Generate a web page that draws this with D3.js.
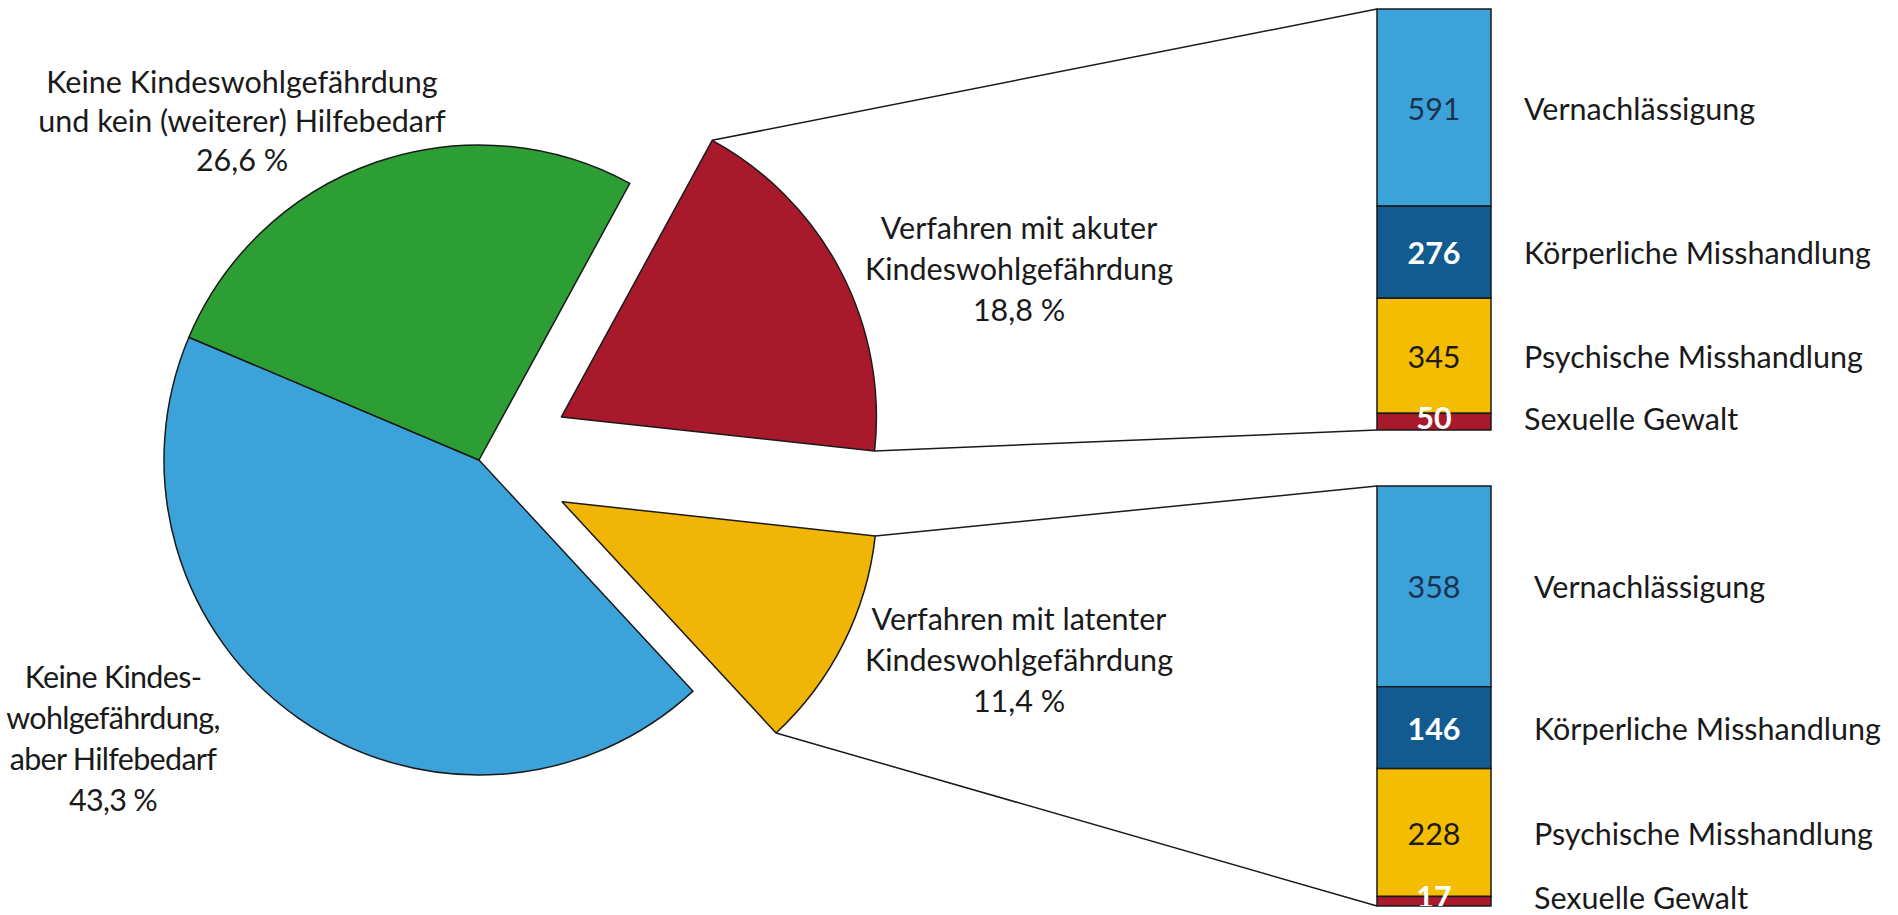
<!DOCTYPE html>
<html>
<head>
<meta charset="utf-8">
<script src="https://cdn.jsdelivr.net/npm/d3@7/dist/d3.min.js"></script>
<style>
    body { margin: 0; background: #fff; }
    text { font-family: Lato, "Open Sans", sans-serif; fill: #1a1a1a; }
</style>
</head>
<body>
<svg id="chart"></svg>
<script>
// Anteile der Verfahren (Kreis), Reihenfolge im Uhrzeigersinn ab dem roten Stück
let pieNames = ['Verfahren mit akuter Kindeswohlgefährdung',
    'Verfahren mit latenter Kindeswohlgefährdung',
    'Keine Kindeswohlgefährdung, aber Hilfebedarf',
    'Keine Kindeswohlgefährdung und kein (weiterer) Hilfebedarf'];
let pieValues = [18.8, 11.4, 43.3, 26.6];
let pieLabels = [
    ['Verfahren mit akuter', 'Kindeswohlgefährdung', '18,8 %'],
    ['Verfahren mit latenter', 'Kindeswohlgefährdung', '11,4 %'],
    ['Keine Kindes-', 'wohlgefährdung,', 'aber Hilfebedarf', '43,3 %'],
    ['Keine Kindeswohlgefährdung', 'und kein (weiterer) Hilfebedarf', '26,6 %']
];
let pieColors = ['#a8192b', '#f0b505', '#3ba2da', '#2c9e33'];

// Gefährdungsarten (Balken)
let harmTypes = ['Vernachlässigung', 'Körperliche Misshandlung', 'Psychische Misshandlung', 'Sexuelle Gewalt'];
let acuteCounts = [591, 276, 345, 50];
let latentCounts = [358, 146, 228, 17];
let harmColors = ['#3ba2da', '#125b90', '#f5bd02', '#a8192b'];
let harmTextColors = ['#1c3350', '#ffffff', '#1a1a1a', '#ffffff'];
let harmTextWeight = ['normal', 'bold', 'normal', 'bold'];

let width = 1898, height = 915;
let fontSize = '30.5px';
let svg = d3.select('#chart')
    .attr('width', width)
    .attr('height', height);

// Kreis
let cx = 479, cy = 460, radius = 315, explode = 93;
let start = 28.6 * Math.PI / 180;
let pie = d3.pie().sort(null).startAngle(start).endAngle(start + 2 * Math.PI);
let arc = d3.arc().innerRadius(0).outerRadius(radius);
let arcs = pie(pieValues);

// explodierte Stücke: rot und gelb
let offset = function (d, i) {
    if (i > 1) return [0, 0];
    let mid = (d.startAngle + d.endAngle) / 2;
    return [explode * Math.sin(mid), -explode * Math.cos(mid)];
};

let gPie = svg.append('g').attr('transform', 'translate(' + cx + ',' + cy + ')');
gPie.selectAll('path')
    .data(arcs)
    .enter()
    .append('path')
    .attr('d', arc)
    .attr('transform', (d, i) => 'translate(' + offset(d, i) + ')')
    .attr('fill', (d, i) => pieColors[i])
    .attr('stroke', '#1a1a1a')
    .attr('stroke-width', 1.5)
    .attr('stroke-linejoin', 'round');

// Balken
let barX = 1377, barW = 114;
let bars = [
    {counts: acuteCounts, top: 9, bottom: 430, labelX: 1524, slice: 0},
    {counts: latentCounts, top: 486, bottom: 906, labelX: 1534, slice: 1}
];

bars.forEach(function (b, bi) {
    let total = d3.sum(b.counts);
    let y = d3.scaleLinear().domain([0, total]).range([b.top, b.bottom]);
    let cum = d3.cumsum(b.counts);
    let segs = b.counts.map((v, i) => ({v: v, i: i, y0: cum[i] - v, y1: cum[i]}));

    // Verbindungslinien vom Kreisstück zum Balken
    let d = arcs[b.slice];
    let off = offset(d, b.slice);
    let p0 = [cx + off[0] + radius * Math.sin(d.startAngle), cy + off[1] - radius * Math.cos(d.startAngle)];
    let p1 = [cx + off[0] + radius * Math.sin(d.endAngle), cy + off[1] - radius * Math.cos(d.endAngle)];
    svg.append('line')
        .attr('x1', p0[0]).attr('y1', p0[1])
        .attr('x2', barX).attr('y2', y(0))
        .attr('stroke', '#1a1a1a').attr('stroke-width', 1.5);
    svg.append('line')
        .attr('x1', p1[0]).attr('y1', p1[1])
        .attr('x2', barX).attr('y2', y(total))
        .attr('stroke', '#1a1a1a').attr('stroke-width', 1.5);

    // Werte werden am unteren Balkenende abgeschnitten (wie im Original)
    svg.append('clipPath')
        .attr('id', 'clip-bar-' + bi)
        .append('rect')
        .attr('x', barX - 20)
        .attr('y', b.top - 40)
        .attr('width', barW + 40)
        .attr('height', b.bottom - b.top + 40);

    let g = svg.append('g');
    g.selectAll('rect')
        .data(segs)
        .enter()
        .append('rect')
        .attr('x', barX)
        .attr('y', s => y(s.y0))
        .attr('width', barW)
        .attr('height', s => y(s.y1) - y(s.y0))
        .attr('fill', s => harmColors[s.i])
        .attr('stroke', '#1a1a1a')
        .attr('stroke-width', 1.5);

    // Werte im Balken
    g.append('g')
        .attr('clip-path', 'url(#clip-bar-' + bi + ')')
        .selectAll('.val')
        .data(segs)
        .enter()
        .append('text')
        .attr('class', 'val')
        .attr('x', barX + barW / 2)
        .attr('y', s => (y(s.y0) + y(s.y1)) / 2 - (s.i === 3 ? 5 : 0))
        .attr('text-anchor', 'middle')
        .attr('dominant-baseline', 'central')
        .style('font-size', fontSize)
        .style('font-weight', s => harmTextWeight[s.i])
        .style('fill', s => harmTextColors[s.i])
        .text(s => s.v);

    // Kategorien rechts
    g.selectAll('.cat')
        .data(segs)
        .enter()
        .append('text')
        .attr('class', 'cat')
        .attr('x', b.labelX)
        .attr('y', s => (y(s.y0) + y(s.y1)) / 2 - (s.i === 3 ? 4 : 0))
        .attr('dominant-baseline', 'central')
        .style('font-size', fontSize)
        .text(s => harmTypes[s.i]);
});

// Beschriftungen der Kreisstücke
let labelPos = [[1019, 227], [1019, 618], [113, 676], [242, 81]];
let lineH = [41, 41, 41, 39];
let spacing = ['0px', '0px', '-0.7px', '0px'];
pieLabels.forEach(function (lines, i) {
    let t = svg.append('text')
        .attr('x', labelPos[i][0])
        .attr('y', labelPos[i][1])
        .attr('text-anchor', 'middle')
        .attr('dominant-baseline', 'central')
        .style('font-size', fontSize)
        .style('letter-spacing', spacing[i]);
    t.selectAll('tspan')
        .data(lines)
        .enter()
        .append('tspan')
        .attr('x', labelPos[i][0])
        .attr('y', (l, k) => labelPos[i][1] + k * lineH[i])
        .text(l => l);
});
</script>
</body>
</html>
